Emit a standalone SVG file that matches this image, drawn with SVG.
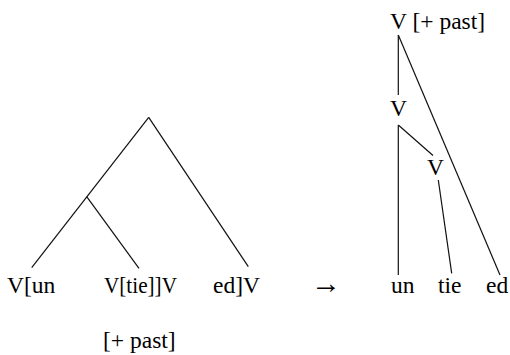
<svg xmlns="http://www.w3.org/2000/svg" width="510" height="355" viewBox="0 0 510 355">
<style>
text{font-family:"Liberation Serif","Times New Roman","DejaVu Serif",serif;font-size:23.5px;fill:#000}
.e{stroke:#111;stroke-width:1.2;fill:none}
</style>
<rect width="510" height="355" fill="#fff"/>
<g id="connectors">
<line class="e" x1="148.7" y1="117.3" x2="31.7" y2="267.7"/>
<line class="e" x1="86.7" y1="196.7" x2="139" y2="268.3"/>
<line class="e" x1="148.7" y1="117.3" x2="248.3" y2="266.7"/>
<line class="e" x1="398.3" y1="35" x2="398.3" y2="95"/>
<line class="e" x1="398.3" y1="35" x2="500" y2="275"/>
<line class="e" x1="398.3" y1="125" x2="398.3" y2="275"/>
<line class="e" x1="398.3" y1="125" x2="433" y2="155.5"/>
<line class="e" x1="438.3" y1="180" x2="451.7" y2="273.3"/>
</g>
<g id="leaf-un-left"><text x="7" y="293">V[un</text></g>
<g id="leaf-tie-left"><text x="104" y="293" textLength="73" lengthAdjust="spacingAndGlyphs">V[tie]]V</text></g>
<g id="leaf-ed-left"><text x="213" y="293">ed]V</text></g>
<g id="feature-left"><text x="103" y="348">[+ past]</text></g>
<g id="arrow"><text x="311" y="293" style="font-size:30px">→</text></g>
<g id="root-right"><text x="390" y="29">V [+ past]</text></g>
<g id="v-mid"><text x="390" y="116">V</text></g>
<g id="v-low"><text x="427" y="175">V</text></g>
<g id="leaf-un"><text x="391" y="293">un</text></g>
<g id="leaf-tie"><text x="438" y="293">tie</text></g>
<g id="leaf-ed"><text x="486" y="293">ed</text></g>
</svg>
